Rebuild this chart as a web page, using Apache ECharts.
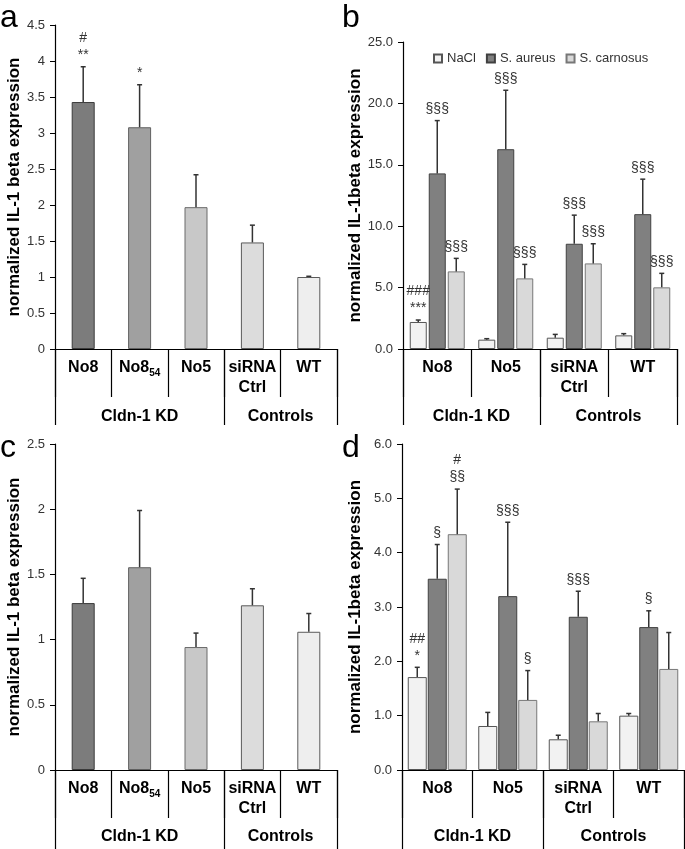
<!DOCTYPE html>
<html><head><meta charset="utf-8">
<script src="https://cdn.jsdelivr.net/npm/echarts@6/dist/echarts.min.js"></script>
<style>html,body{margin:0;padding:0;background:#fff}#c{width:685px;height:849px}</style>
</head><body><div id="c"></div>
<script>
// ---------- data ----------
const catsAC = ['No8', 'No8{sub|54}', 'No5', 'siRNA\nCtrl', 'WT'];
const catsBD = ['No8', 'No5', 'siRNA\nCtrl', 'WT'];
const groupNames = ['Cldn-1 KD', 'Controls'];
const groupSpansAC = [3, 2];
const groupSpansBD = [2, 2];
const seriesNames = ['NaCl', 'S. aureus', 'S. carnosus'];

// panel a
const valA = [3.43, 3.08, 1.97, 1.48, 1.00];
const errTopA = [3.92, 3.67, 2.42, 1.72, 1.01];
const annA = ['#\n**', '*', '', '', ''];
// panel c
const valC = [1.28, 1.555, 0.943, 1.263, 1.06];
const errTopC = [1.47, 1.99, 1.05, 1.39, 1.20];
const annC = ['', '', '', '', ''];
// panel b
const valB_NaCl = [2.2, 0.76, 0.92, 1.11];
const errB_NaCl = [2.36, 0.84, 1.19, 1.25];
const valB_aureus = [14.3, 16.27, 8.57, 10.98];
const errB_aureus = [18.6, 21.07, 10.9, 13.83];
const valB_carnosus = [6.32, 5.75, 6.97, 5.02];
const errB_carnosus = [7.38, 6.89, 8.57, 6.16];
const annB_NaCl = ['###\n***', '', '', ''];
const annB_aureus = ['§§§', '§§§', '§§§', '§§§'];
const annB_carnosus = ['§§§', '§§§', '§§§', '§§§'];
// panel d
const valD_NaCl = [1.71, 0.81, 0.565, 1.0];
const errD_NaCl = [1.89, 1.06, 0.64, 1.04];
const valD_aureus = [3.52, 3.20, 2.82, 2.63];
const errD_aureus = [4.15, 4.56, 3.29, 2.93];
const valD_carnosus = [4.34, 1.29, 0.896, 1.86];
const errD_carnosus = [5.17, 1.83, 1.04, 2.53];
const annD_NaCl = ['##\n*', '', '', ''];
const annD_aureus = ['§', '§§§', '§§§', '§'];
const annD_carnosus = ['#\n§§', '§', '', ''];

// y-axis scales
const yA = {max: 4.5, interval: 0.5, decimals: null};
const yB = {max: 25, interval: 5, decimals: 1};
const yC = {max: 2.5, interval: 0.5, decimals: null};
const yD = {max: 6, interval: 1, decimals: 1};

// ---------- styles ----------
const FONT = '"Liberation Sans", Arial, sans-serif';
const colorsAC = ['#7c7c7c', '#a0a0a0', '#c8c8c8', '#dcdcdc', '#eeeeee'];
const bordersAC = ['#3a3a3a', '#606060', '#6a6a6a', '#5a5a5a', '#5a5a5a'];
const colorsBD = ['#f2f2f2', '#808080', '#d9d9d9'];
const bordersBD = ['#555555', '#404040', '#777777'];

const grids = [
  {left: 55, top: 25, width: 282, height: 324},
  {left: 403, top: 42, width: 274, height: 307},
  {left: 55, top: 444, width: 282, height: 326},
  {left: 402, top: 444, width: 282, height: 326}
];
const groupTickLen = [76, 76, 80, 80];
const groupLabelMargin = [59, 59, 58, 58];
const yNameGap = [30, 38, 30, 38];

function boundaries(spans) { const b = [0]; spans.forEach(s => b.push(b[b.length - 1] + s)); return b; }
function centers(spans) { const b = boundaries(spans); return spans.map((s, i) => b[i] + s / 2); }

const xAxes = [], yAxes = [], series = [];
const panels = [
  {cats: catsAC, spans: groupSpansAC, y: yA, name: 'normalized IL-1 beta expression'},
  {cats: catsBD, spans: groupSpansBD, y: yB, name: 'normalized IL-1beta expression'},
  {cats: catsAC, spans: groupSpansAC, y: yC, name: 'normalized IL-1 beta expression'},
  {cats: catsBD, spans: groupSpansBD, y: yD, name: 'normalized IL-1beta expression'}
];

panels.forEach((p, gi) => {
  xAxes.push({
    type: 'category', gridIndex: gi, data: p.cats, position: 'bottom',
    axisLine: {show: true, lineStyle: {color: '#000', width: 1.2}},
    axisTick: {show: true, alignWithLabel: false, interval: 0, length: 48, lineStyle: {color: '#000', width: 1.2}},
    axisLabel: {show: true, interval: 0, margin: 9, color: '#000', fontFamily: FONT, fontWeight: 'bold', fontSize: 16, lineHeight: 20,
      rich: {sub: {fontSize: 10, fontWeight: 'bold', fontFamily: FONT, color: '#000', verticalAlign: 'bottom', lineHeight: 14, padding: [8, 0, 0, 0]}}},
    splitLine: {show: false}
  });
  const b = boundaries(p.spans), c = centers(p.spans);
  xAxes.push({
    type: 'value', gridIndex: gi, position: 'bottom', min: 0, max: b[b.length - 1],
    axisLine: {show: false},
    axisTick: {show: true, customValues: b, length: groupTickLen[gi], lineStyle: {color: '#000', width: 1.2}},
    axisLabel: {show: true, customValues: c, margin: groupLabelMargin[gi], color: '#000', fontFamily: FONT, fontWeight: 'bold', fontSize: 16, lineHeight: 18,
      formatter: v => { const k = c.findIndex(x => Math.abs(x - v) < 1e-6); return k >= 0 ? groupNames[k] : ''; }},
    splitLine: {show: false}
  });
  yAxes.push({
    type: 'value', gridIndex: gi, min: 0, max: p.y.max, interval: p.y.interval,
    name: p.name, nameLocation: 'middle', nameRotate: 90, nameGap: yNameGap[gi],
    nameTextStyle: {fontFamily: FONT, fontWeight: 'bold', fontSize: 17, color: '#000'},
    axisLine: {show: true, lineStyle: {color: '#000', width: 1.2}},
    axisTick: {show: true, length: 5, lineStyle: {color: '#000'}},
    axisLabel: {margin: 10, color: '#333', fontFamily: FONT, fontSize: 13,
      formatter: v => p.y.decimals == null ? String(+v.toFixed(2)) : v.toFixed(p.y.decimals)},
    splitLine: {show: false}
  });
});

function errSeries(xIdx, yIdx, vals, tops, anns, off, step) {
  return {
    type: 'custom', xAxisIndex: xIdx, yAxisIndex: yIdx, z: 5, silent: true,
    data: vals.map((v, i) => [i, v, tops[i]]),
    renderItem: (params, api) => {
      const i = params.dataIndex;
      const base = api.coord([api.value(0), api.value(1)]);
      const top = api.coord([api.value(0), api.value(2)]);
      const x = base[0] + off * step;
      const ch = [
        {type: 'line', shape: {x1: x, y1: base[1], x2: x, y2: top[1]}, style: {stroke: '#333', lineWidth: 1.5}},
        {type: 'line', shape: {x1: x - 2.5, y1: top[1], x2: x + 2.5, y2: top[1]}, style: {stroke: '#333', lineWidth: 1.5}}
      ];
      if (anns[i]) ch.push({type: 'text', x: x, y: top[1] - 3,
        style: {text: anns[i], align: 'center', verticalAlign: 'bottom', font: '14px ' + FONT, fill: '#333', lineHeight: 17}});
      return {type: 'group', children: ch};
    }
  };
}

// single-series panels a, c
[[0, valA, errTopA, annA], [2, valC, errTopC, annC]].forEach(([gi, vals, tops, anns]) => {
  series.push({
    type: 'bar', xAxisIndex: gi * 2, yAxisIndex: gi, barWidth: 23,
    data: vals.map((v, i) => ({value: v, itemStyle: {color: colorsAC[i], borderColor: bordersAC[i], borderWidth: 1}})),
    silent: true
  });
  series.push(errSeries(gi * 2, gi, vals, tops, anns, 0, 0));
});

// grouped panels b, d
const grouped = [
  {gi: 1, bw: 17, gap: 2, vals: [valB_NaCl, valB_aureus, valB_carnosus], tops: [errB_NaCl, errB_aureus, errB_carnosus], anns: [annB_NaCl, annB_aureus, annB_carnosus]},
  {gi: 3, bw: 19, gap: 1, vals: [valD_NaCl, valD_aureus, valD_carnosus], tops: [errD_NaCl, errD_aureus, errD_carnosus], anns: [annD_NaCl, annD_aureus, annD_carnosus]}
];
grouped.forEach(g => {
  g.vals.forEach((vals, si) => {
    series.push({
      type: 'bar', name: seriesNames[si], xAxisIndex: g.gi * 2, yAxisIndex: g.gi,
      barWidth: g.bw, barGap: (g.gap / g.bw * 100) + '%', silent: true,
      itemStyle: {color: colorsBD[si], borderColor: bordersBD[si], borderWidth: 1},
      data: vals
    });
  });
  g.vals.forEach((vals, si) => {
    series.push(errSeries(g.gi * 2, g.gi, vals, g.tops[si], g.anns[si], si - 1, g.bw + g.gap));
  });
});

const option = {
  animation: false,
  backgroundColor: '#fff',
  textStyle: {fontFamily: FONT},
  grid: grids.map(g => Object.assign({containLabel: false, outerBoundsMode: 'none'}, g)),
  xAxis: xAxes,
  yAxis: yAxes,
  legend: {
    data: seriesNames, left: 428, top: 47, icon: 'rect', itemWidth: 8, itemHeight: 8, itemGap: 10,
    selectedMode: false, textStyle: {fontFamily: FONT, fontSize: 13, color: '#333'}
  },
  graphic: [
    {type: 'text', left: 0, top: 2, style: {text: 'a', font: '32px ' + FONT, fill: '#000'}},
    {type: 'text', left: 342, top: 2, style: {text: 'b', font: '32px ' + FONT, fill: '#000'}},
    {type: 'text', left: 0, top: 432, style: {text: 'c', font: '32px ' + FONT, fill: '#000'}},
    {type: 'text', left: 342, top: 432, style: {text: 'd', font: '32px ' + FONT, fill: '#000'}}
  ],
  series: series
};
const chart = echarts.init(document.getElementById('c'), null, {renderer: 'canvas'});
chart.setOption(option);
</script></body></html>
